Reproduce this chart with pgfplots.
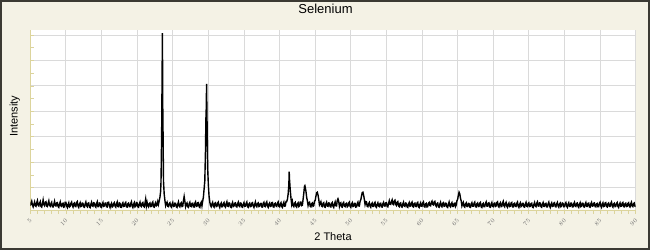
\documentclass[border=0pt]{standalone}
\usepackage{fontspec}
\setmainfont{Liberation Sans}
\usepackage{pgfplots}
\pgfplotsset{compat=1.18}
\definecolor{bgc}{HTML}{F4F2E5}
\definecolor{brd}{HTML}{3B3A33}
\definecolor{axy}{HTML}{DCD49C}
\definecolor{grd}{HTML}{DADADA}
\definecolor{tlab}{HTML}{707070}
\begin{document}
\begin{tikzpicture}[x=1pt,y=1pt]
\path[use as bounding box] (0,0) rectangle (650,250);
\fill[bgc] (0,0) rectangle (650,250);
\draw[brd, line width=2pt] (1,1) rectangle (649,249.3);
\begin{axis}[
  at={(30.3pt,39.5pt)}, anchor=south west,
  scale only axis, width=605.4pt, height=180.5pt,
  xmin=5, xmax=90, ymin=0, ymax=1775,
  axis background/.style={fill=white},
  axis x line*=bottom, axis y line*=left,
  axis line style={draw=axy, line width=1pt, -},
  xtick={5,10,...,90}, minor x tick num=4,
  ytick={225,475,...,1725}, minor y tick num=1, yticklabels={},
  xmajorgrids, ymajorgrids,
  major grid style={draw=grd, line width=0.9pt},
  tick align=outside,
  major tick length=3pt, minor tick length=3pt,
  every tick/.style={draw=axy, line width=0.8pt},
  y tick style={xshift=3.5pt},
  xticklabel style={font=\fontsize{6}{7}\selectfont, text=tlab, xshift=1.4pt, yshift=-5.4pt, rotate=45, anchor=east, inner sep=1pt},
  every axis title shift=0pt,
  title={Selenium},
  title style={font=\fontsize{13}{15}\selectfont, at={(axis description cs:0.4876,1)}, anchor=base, yshift=16.7pt, inner sep=0pt},
  xlabel={2 Theta},
  xlabel style={font=\fontsize{11}{13}\selectfont, at={(axis description cs:0.5,0)}, anchor=base, yshift=-29.5pt, inner sep=0pt},
  ylabel={Intensity},
  ylabel style={font=\fontsize{11}{13}\selectfont, at={(axis description cs:0,0.5235)}, anchor=base, yshift=12.8pt, inner sep=0pt},
]
\addplot[black, line width=1.4pt] coordinates {
(5.0,48)(5.1,70)(5.2,92)(5.3,55)(5.4,36)(5.5,61)(5.6,84)(5.7,47)(5.8,41)(5.9,77)
(6.0,98)(6.1,52)(6.2,45)(6.3,73)(6.4,88)(6.5,40)(6.6,33)(6.7,66)(6.8,104)(6.9,58)
(7.0,47)(7.1,80)(7.2,86)(7.3,44)(7.4,39)(7.5,71)(7.6,95)(7.7,50)(7.8,42)(7.9,68)
(8.0,81)(8.1,37)(8.2,35)(8.3,62)(8.4,90)(8.5,48)(8.6,44)(8.7,75)(8.8,78)(8.9,39)
(9.0,31)(9.1,64)(9.2,85)(9.3,46)(9.4,40)(9.5,69)(9.6,72)(9.7,33)(9.8,36)(9.9,81)
(10.0,80)(10.1,45)(10.2,29)(10.3,58)(10.4,76)(10.5,35)(10.6,42)(10.7,70)(10.8,83)(10.9,49)
(11.0,34)(11.1,67)(11.2,74)(11.3,40)(11.4,38)(11.5,79)(11.6,88)(11.7,43)(11.8,30)(11.9,62)
(12.0,77)(12.1,39)(12.2,43)(12.3,73)(12.4,70)(12.5,36)(12.6,32)(12.7,65)(12.8,84)(12.9,47)
(13.0,37)(13.1,71)(13.2,75)(13.3,33)(13.4,28)(13.5,60)(13.6,81)(13.7,45)(13.8,41)(13.9,76)
(14.0,73)(14.1,42)(14.2,33)(14.3,68)(14.4,86)(14.5,38)(14.6,39)(14.7,74)(14.8,71)(14.9,35)
(15.0,30)(15.1,63)(15.2,79)(15.3,41)(15.4,44)(15.5,72)(15.6,74)(15.7,37)(15.8,35)(15.9,80)
(16.0,82)(16.1,46)(16.2,29)(16.3,57)(16.4,72)(16.5,34)(16.6,40)(16.7,69)(16.8,78)(16.9,43)
(17.0,33)(17.1,66)(17.2,84)(17.3,39)(17.4,37)(17.5,75)(17.6,70)(17.7,32)(17.8,31)(17.9,64)
(18.0,76)(18.1,40)(18.2,42)(18.3,71)(18.4,80)(18.5,36)(18.6,34)(18.7,67)(18.8,73)(18.9,38)
(19.0,38)(19.1,69)(19.2,86)(19.3,44)(19.4,30)(19.5,61)(19.6,77)(19.7,35)(19.8,41)(19.9,78)
(20.0,74)(20.1,37)(20.2,32)(20.3,66)(20.4,83)(20.5,45)(20.6,39)(20.7,72)(20.8,79)(20.9,42)
(21.0,35)(21.1,70)(21.2,112)(21.3,44)(21.4,80)(21.5,48)(21.6,36)(21.7,68)(21.8,75)(21.9,39)
(22.0,40)(22.1,73)(22.2,84)(22.3,37)(22.4,33)(22.5,64)(22.6,79)(22.7,46)(22.8,52)(22.9,88)
(23.0,60)(23.1,95)(23.2,130)(23.3,190)(23.35,280)(23.4,520)(23.45,830)(23.5,1300)(23.55,1745)(23.6,1020)(23.65,700)(23.7,290)(23.8,160)(23.9,100)
(24.0,48)(24.1,70)(24.2,82)(24.3,41)(24.4,38)(24.5,67)(24.6,76)(24.7,44)(24.8,34)(24.9,63)
(25.0,79)(25.1,40)(25.2,43)(25.3,72)(25.4,71)(25.5,36)(25.6,30)(25.7,61)(25.8,84)(25.9,45)
(26.0,36)(26.1,68)(26.2,77)(26.3,39)(26.4,41)(26.5,95)(26.6,138)(26.7,90)(26.8,38)(26.9,62)
(27.0,74)(27.1,37)(27.2,31)(27.3,66)(27.4,81)(27.5,43)(27.6,39)(27.7,70)(27.8,72)(27.9,35)
(28.0,34)(28.1,71)(28.2,85)(28.3,40)(28.4,42)(28.5,76)(28.6,78)(28.7,37)(28.8,30)(28.9,65)
(29.0,82)(29.1,45)(29.2,90)(29.3,130)(29.4,210)(29.5,290)(29.6,600)(29.65,890)(29.7,1000)(29.75,1245)(29.8,960)(29.85,700)(29.9,420)
(30.0,250)(30.1,140)(30.2,85)(30.3,49)(30.4,37)(30.5,64)(30.6,80)(30.7,42)(30.8,33)(30.9,70)
(31.0,76)(31.1,38)(31.2,40)(31.3,73)(31.4,83)(31.5,47)(31.6,29)(31.7,60)(31.8,74)(31.9,36)
(32.0,38)(32.1,69)(32.2,79)(32.3,42)(32.4,33)(32.5,67)(32.6,86)(32.7,44)(32.8,41)(32.9,75)
(33.0,72)(33.1,35)(33.2,30)(33.3,62)(33.4,80)(33.5,39)(33.6,44)(33.7,71)(33.8,75)(33.9,40)
(34.0,35)(34.1,66)(34.2,82)(34.3,45)(34.4,39)(34.5,74)(34.6,71)(34.7,36)(34.8,32)(34.9,63)
(35.0,78)(35.1,41)(35.2,42)(35.3,70)(35.4,84)(35.5,37)(35.6,31)(35.7,65)(35.8,73)(35.9,38)
(36.0,40)(36.1,72)(36.2,77)(36.3,43)(36.4,29)(36.5,58)(36.6,83)(36.7,46)(36.8,37)(36.9,69)
(37.0,75)(37.1,39)(37.2,43)(37.3,68)(37.4,70)(37.5,35)(37.6,34)(37.7,71)(37.8,81)(37.9,42)
(38.0,38)(38.1,74)(38.2,86)(38.3,44)(38.4,31)(38.5,62)(38.6,74)(38.7,40)(38.8,42)(38.9,77)
(39.0,79)(39.1,36)(39.2,33)(39.3,67)(39.4,72)(39.5,45)(39.6,40)(39.7,73)(39.8,85)(39.9,41)
(40.0,36)(40.1,65)(40.2,77)(40.3,38)(40.4,30)(40.5,64)(40.6,82)(40.7,43)(40.8,44)(40.9,88)
(41.0,88)(41.1,110)(41.2,160)(41.3,255)(41.35,382)(41.4,300)(41.5,200)(41.6,120)(41.7,60)(41.8,90)(41.9,48)
(42.0,38)(42.1,70)(42.2,80)(42.3,41)(42.4,33)(42.5,66)(42.6,76)(42.7,39)(42.8,45)(42.9,84)
(43.0,84)(43.1,48)(43.2,52)(43.3,110)(43.4,170)(43.5,240)(43.55,245)(43.6,230)(43.7,190)(43.8,130)(43.9,95)
(44.0,50)(44.1,78)(44.2,82)(44.3,40)(44.4,36)(44.5,68)(44.6,74)(44.7,42)(44.8,48)(44.9,92)
(45.0,100)(45.1,140)(45.2,175)(45.3,180)(45.4,150)(45.5,110)(45.6,55)(45.7,70)(45.8,86)(45.9,43)
(46.0,39)(46.1,71)(46.2,77)(46.3,36)(46.4,32)(46.5,65)(46.6,81)(46.7,44)(46.8,41)(46.9,74)
(47.0,73)(47.1,38)(47.2,35)(47.3,69)(47.4,79)(47.5,42)(47.6,30)(47.7,63)(47.8,84)(47.9,47)
(48.0,45)(48.1,100)(48.2,115)(48.3,92)(48.4,40)(48.5,68)(48.6,75)(48.7,37)(48.8,33)(48.9,70)
(49.0,80)(49.1,43)(49.2,38)(49.3,66)(49.4,72)(49.5,36)(49.6,43)(49.7,74)(49.8,83)(49.9,40)
(50.0,31)(50.1,62)(50.2,76)(50.3,39)(50.4,40)(50.5,71)(50.6,70)(50.7,34)(50.8,35)(50.9,68)
(51.0,82)(51.1,46)(51.2,44)(51.3,90)(51.4,105)(51.5,140)(51.6,175)(51.7,180)(51.8,150)(51.9,110)
(52.0,60)(52.1,88)(52.2,85)(52.3,41)(52.4,37)(52.5,67)(52.6,79)(52.7,43)(52.8,32)(52.9,64)
(53.0,74)(53.1,40)(53.2,41)(53.3,72)(53.4,81)(53.5,37)(53.6,30)(53.7,61)(53.8,76)(53.9,44)
(54.0,39)(54.1,70)(54.2,72)(54.3,35)(54.4,34)(54.5,66)(54.6,80)(54.7,45)(54.8,43)(54.9,75)
(55.0,77)(55.1,41)(55.2,36)(55.3,70)(55.4,96)(55.5,62)(55.6,60)(55.7,88)(55.8,105)(55.9,64)
(56.0,58)(56.1,95)(56.2,102)(56.3,60)(56.4,50)(56.5,82)(56.6,88)(56.7,45)(56.8,38)(56.9,70)
(57.0,75)(57.1,37)(57.2,33)(57.3,64)(57.4,82)(57.5,44)(57.6,40)(57.7,73)(57.8,71)(57.9,36)
(58.0,31)(58.1,63)(58.2,78)(58.3,42)(58.4,44)(58.5,76)(58.6,84)(58.7,39)(58.8,35)(58.9,69)
(59.0,73)(59.1,40)(59.2,39)(59.3,72)(59.4,80)(59.5,37)(59.6,29)(59.7,60)(59.8,76)(59.9,43)
(60.0,42)(60.1,74)(60.2,85)(60.3,39)(60.4,34)(60.5,66)(60.6,71)(60.7,35)(60.8,38)(60.9,70)
(61.0,79)(61.1,49)(61.2,46)(61.3,80)(61.4,92)(61.5,60)(61.6,55)(61.7,84)(61.8,90)(61.9,52)
(62.0,41)(62.1,68)(62.2,74)(62.3,36)(62.4,32)(62.5,63)(62.6,81)(62.7,44)(62.8,37)(62.9,71)
(63.0,77)(63.1,41)(63.2,43)(63.3,72)(63.4,70)(63.5,35)(63.6,30)(63.7,62)(63.8,83)(63.9,45)
(64.0,36)(64.1,67)(64.2,78)(64.3,40)(64.4,40)(64.5,69)(64.6,72)(64.7,38)(64.8,52)(64.9,95)
(65.0,110)(65.1,150)(65.2,180)(65.3,165)(65.4,120)(65.5,95)(65.6,45)(65.7,66)(65.8,80)(65.9,41)
(66.0,33)(66.1,64)(66.2,75)(66.3,40)(66.4,39)(66.5,70)(66.6,69)(66.7,34)(66.8,31)(66.9,65)
(67.0,78)(67.1,42)(67.2,42)(67.3,71)(67.4,82)(67.5,38)(67.6,35)(67.7,66)(67.8,74)(67.9,39)
(68.0,40)(68.1,72)(68.2,80)(68.3,36)(68.4,30)(68.5,63)(68.6,71)(68.7,37)(68.8,37)(68.9,68)
(69.0,84)(69.1,44)(69.2,43)(69.3,73)(69.4,76)(69.5,35)(69.6,32)(69.7,64)(69.8,79)(69.9,41)
(70.0,38)(70.1,67)(70.2,73)(70.3,40)(70.4,45)(70.5,79)(70.6,86)(70.7,42)(70.8,34)(70.9,65)
(71.0,77)(71.1,38)(71.2,40)(71.3,74)(71.4,90)(71.5,46)(71.6,36)(71.7,70)(71.8,81)(71.9,43)
(72.0,31)(72.1,62)(72.2,74)(72.3,39)(72.4,42)(72.5,73)(72.6,79)(72.7,36)(72.8,35)(72.9,67)
(73.0,72)(73.1,40)(73.2,39)(73.3,70)(73.4,83)(73.5,41)(73.6,30)(73.7,61)(73.8,75)(73.9,38)
(74.0,44)(74.1,71)(74.2,70)(74.3,36)(74.4,33)(74.5,64)(74.6,80)(74.7,42)(74.8,38)(74.9,69)
(75.0,76)(75.1,39)(75.2,41)(75.3,68)(75.4,72)(75.5,34)(75.6,29)(75.7,60)(75.8,79)(75.9,44)
(76.0,37)(76.1,70)(76.2,84)(76.3,45)(76.4,43)(76.5,75)(76.6,73)(76.7,38)(76.8,32)(76.9,63)
(77.0,78)(77.1,41)(77.2,40)(77.3,69)(77.4,71)(77.5,36)(77.6,35)(77.7,67)(77.8,82)(77.9,46)
(78.0,30)(78.1,61)(78.2,75)(78.3,40)(78.4,42)(78.5,72)(78.6,77)(78.7,39)(78.8,36)(78.9,66)
(79.0,80)(79.1,44)(79.2,33)(79.3,65)(79.4,74)(79.5,38)(79.6,45)(79.7,74)(79.8,70)(79.9,37)
(80.0,38)(80.1,69)(80.2,79)(80.3,42)(80.4,31)(80.5,62)(80.6,76)(80.7,40)(80.8,41)(80.9,73)
(81.0,72)(81.1,36)(81.2,35)(81.3,67)(81.4,81)(81.5,44)(81.6,39)(81.7,70)(81.8,74)(81.9,40)
(82.0,30)(82.1,63)(82.2,77)(82.3,38)(82.4,43)(82.5,72)(82.6,71)(82.7,37)(82.8,34)(82.9,64)
(83.0,79)(83.1,41)(83.2,40)(83.3,70)(83.4,73)(83.5,35)(83.6,32)(83.7,65)(83.8,80)(83.9,43)
(84.0,44)(84.1,72)(84.2,75)(84.3,39)(84.4,36)(84.5,66)(84.6,70)(84.7,37)(84.8,38)(84.9,71)
(85.0,82)(85.1,45)(85.2,31)(85.3,62)(85.4,76)(85.5,39)(85.6,42)(85.7,74)(85.8,78)(85.9,40)
(86.0,35)(86.1,66)(86.2,73)(86.3,41)(86.4,40)(86.5,71)(86.6,84)(86.7,43)(86.8,33)(86.9,64)
(87.0,71)(87.1,38)(87.2,39)(87.3,69)(87.4,79)(87.5,42)(87.6,30)(87.7,61)(87.8,75)(87.9,41)
(88.0,43)(88.1,73)(88.2,80)(88.3,38)(88.4,36)(88.5,67)(88.6,72)(88.7,39)(88.8,41)(88.9,70)
(89.0,77)(89.1,40)(89.2,34)(89.3,66)(89.4,82)(89.5,44)(89.6,38)(89.7,68)(89.8,74)(89.9,42)
(90.0,40)
};
\end{axis}
\end{tikzpicture}
\end{document}
